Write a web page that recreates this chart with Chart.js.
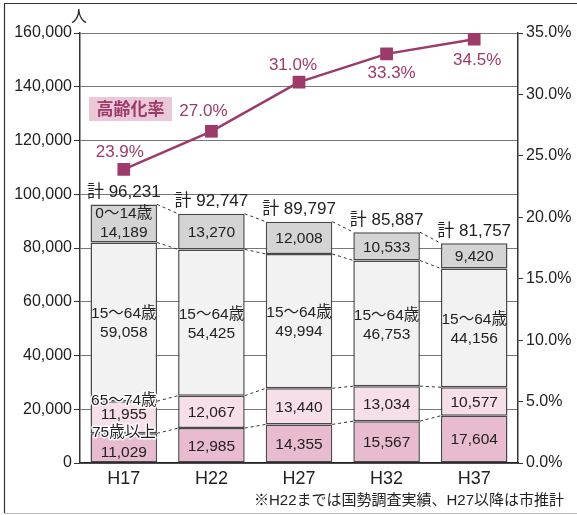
<!DOCTYPE html>
<html>
<head>
<meta charset="utf-8">
<script src="https://cdn.jsdelivr.net/npm/chart.js@4.4.1/dist/chart.umd.min.js"></script>
<style>
  html, body { margin: 0; padding: 0; background: #fff; }
  #wrap { width: 577px; height: 515px; }
</style>
</head>
<body>
<div id="wrap"><canvas id="pop-chart" width="577" height="515"></canvas></div>
<script>
// data
var years = ['H17', 'H22', 'H27', 'H32', 'H37'];
var age75plus = [11029, 12985, 14355, 15567, 17604];
var age65to74 = [11955, 12067, 13440, 13034, 10577];
var age15to64 = [59058, 54425, 49994, 46753, 44156];
var age0to14 = [14189, 13270, 12008, 10533, 9420];
var totals = [96231, 92747, 89797, 85887, 81757];
var agingRate = [23.9, 27.0, 31.0, 33.3, 34.5];

var groupNames = ['75歳以上', '65～74歳', '15～64歳', '0～14歳'];
var leftTicks = [0, 20000, 40000, 60000, 80000, 100000, 120000, 140000, 160000];
var rightTicks = [0, 5, 10, 15, 20, 25, 30, 35];

var FONT = '"Liberation Sans", Arial, "Noto Sans CJK JP", sans-serif';
var LINE_COLOR = '#9c3a69';

function fmt(n) {
    return n.toString().replace(/\B(?=(\d{3})+(?!\d))/g, ',');
}

// dashed connectors, segment values, totals, percent labels, notes
var labelPlugin = {
    id: 'labels',
    afterDatasetsDraw: function (chart) {
        var ctx = chart.ctx;
        var metas = [0, 1, 2, 3].map(function (i) { return chart.getDatasetMeta(i); });

        // dashed lines between bars
        ctx.save();
        ctx.strokeStyle = '#333';
        ctx.lineWidth = 1;
        ctx.setLineDash([3, 3]);
        for (var i = 0; i < years.length - 1; i++) {
            metas.forEach(function (m) {
                var a = m.data[i], b = m.data[i + 1];
                ctx.beginPath();
                ctx.moveTo(a.x + a.width / 2, a.y);
                ctx.lineTo(b.x - b.width / 2, b.y);
                ctx.stroke();
            });
        }
        ctx.restore();

        ctx.save();
        ctx.textAlign = 'center';
        ctx.textBaseline = 'middle';
        ctx.fillStyle = '#222';
        var segFont = '15.5px ' + FONT;
        ctx.font = segFont;
        var values = [age75plus, age65to74, age15to64, age0to14];

        for (var j = 0; j < years.length; j++) {
            metas.forEach(function (m, k) {
                var el = m.data[j];
                var mid = (el.y + el.base) / 2;
                var txt = fmt(values[k][j]);
                if (k === 2) {
                    ctx.fillText(groupNames[2], el.x, mid - 8);
                    ctx.fillText(txt, el.x, mid + 11);
                } else if (k === 3 && j === 0) {
                    ctx.fillText(groupNames[3], el.x, mid - 10);
                    ctx.fillText(txt, el.x, mid + 9);
                } else if (j === 0 && (k === 0 || k === 1)) {
                    ctx.fillText(txt, el.x, mid + (k === 0 ? 5 : -3));
                    ctx.save();
                    ctx.strokeStyle = '#fff';
                    ctx.lineWidth = 3;
                    ctx.lineJoin = 'round';
                    ctx.strokeText(groupNames[k], el.x, el.y - 1);
                    ctx.fillText(groupNames[k], el.x, el.y - 1);
                    ctx.restore();
                } else {
                    ctx.fillText(txt, el.x, mid + 1);
                }
            });
            // total above the bar
            var top = metas[3].data[j];
            ctx.font = '17px ' + FONT;
            ctx.fillText('計 ' + fmt(totals[j]), top.x, top.y - 12);
            ctx.font = segFont;
        }

        // aging rate labels
        var offsets = [[-4, -17], [-8, -20], [-6, -17], [5, 19], [3, 21]];
        var lm = chart.getDatasetMeta(4);
        ctx.font = '17px ' + FONT;
        ctx.fillStyle = LINE_COLOR;
        lm.data.forEach(function (p, i) {
            ctx.fillText(agingRate[i].toFixed(1) + '%', p.x + offsets[i][0], p.y + offsets[i][1]);
        });

        // legend box for the line
        ctx.fillStyle = '#ebc8d8';
        ctx.fillRect(89, 97, 83, 24);
        ctx.fillStyle = LINE_COLOR;
        ctx.font = 'bold 17px "Noto Sans CJK JP", sans-serif';
        ctx.fillText('高齢化率', 130.5, 109);

        // unit and footnote
        ctx.fillStyle = '#222';
        ctx.font = '16px "Noto Sans CJK JP", sans-serif';
        ctx.fillText('人', 79, 16);
        ctx.font = '15px ' + FONT;
        ctx.textAlign = 'right';
        ctx.fillText('※H22までは国勢調査実績、H27以降は市推計', 564, 501);

        // outer frame
        ctx.strokeStyle = '#333';
        ctx.lineWidth = 1.2;
        ctx.beginPath();
        ctx.moveTo(4.5, 513);
        ctx.lineTo(4.5, 3.5);
        ctx.lineTo(577, 3.5);
        ctx.stroke();
        ctx.strokeStyle = '#bbb';
        ctx.beginPath();
        ctx.moveTo(4.5, 513.5);
        ctx.lineTo(577, 513.5);
        ctx.stroke();
        ctx.restore();
    }
};

function barSet(label, data, color) {
    return {
        type: 'bar',
        label: label,
        data: data,
        backgroundColor: color,
        borderColor: '#4a4a4a',
        borderWidth: 1.5,
        borderSkipped: false,
        barPercentage: 0.76,
        categoryPercentage: 1.0,
        yAxisID: 'y',
        stack: 'pop',
        order: 1
    };
}

var ctx = document.getElementById('pop-chart').getContext('2d');
var chart = new Chart(ctx, {
    type: 'bar',
    data: {
        labels: years,
        datasets: [
            barSet(groupNames[0], age75plus, '#e8bbd0'),
            barSet(groupNames[1], age65to74, '#f6dfe8'),
            barSet(groupNames[2], age15to64, '#f1f2f1'),
            barSet(groupNames[3], age0to14, '#d4d4d4'),
            {
                type: 'line',
                label: '高齢化率',
                data: agingRate,
                yAxisID: 'y1',
                borderColor: LINE_COLOR,
                backgroundColor: LINE_COLOR,
                borderWidth: 2.5,
                pointStyle: 'rect',
                pointRadius: 9,
                pointBorderWidth: 0,
                pointBackgroundColor: LINE_COLOR,
                order: 0
            }
        ]
    },
    options: {
        responsive: false,
        animation: false,
        layout: { padding: { top: 33, left: 0, right: 0, bottom: 0 } },
        plugins: {
            legend: { display: false },
            tooltip: { enabled: false }
        },
        scales: {
            x: {
                stacked: true,
                grid: { display: false, drawTicks: false },
                border: { color: '#222', width: 1.5 },
                ticks: { color: '#222', font: { size: 18, family: FONT }, padding: 5 },
                afterFit: function (s) { s.height = 52; }
            },
            y: {
                stacked: true,
                min: 0,
                max: 160000,
                afterBuildTicks: function (s) {
                    s.ticks = leftTicks.map(function (v) { return { value: v }; });
                },
                grid: { color: '#777', lineWidth: 1, tickLength: 6, tickColor: '#333' },
                border: { color: '#333', width: 1.5 },
                ticks: {
                    color: '#222',
                    font: { size: 16, family: FONT },
                    padding: 2,
                    callback: function (v) { return fmt(v); }
                },
                afterFit: function (s) { s.width = 80; }
            },
            y1: {
                position: 'right',
                min: 0,
                max: 35,
                afterBuildTicks: function (s) {
                    s.ticks = rightTicks.map(function (v) { return { value: v }; });
                },
                grid: { drawOnChartArea: false, tickLength: 5, tickColor: '#333' },
                border: { color: '#333', width: 1.5 },
                ticks: {
                    color: '#222',
                    font: { size: 16, family: FONT },
                    padding: 3,
                    callback: function (v) { return v.toFixed(1) + '%'; }
                },
                afterFit: function (s) { s.width = 59; }
            }
        }
    },
    plugins: [labelPlugin]
});
</script>
</body>
</html>
